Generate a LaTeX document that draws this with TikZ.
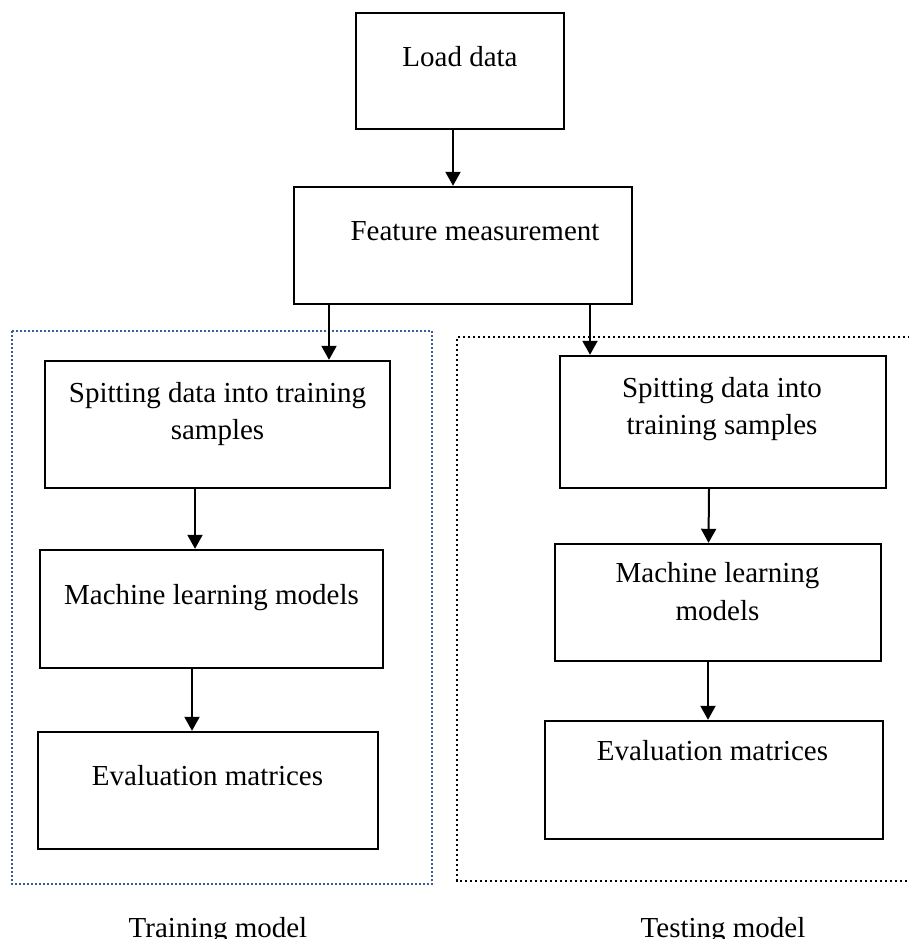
\documentclass[tikz,border=0pt]{standalone}
\usepackage{fontspec}
\setmainfont{Liberation Serif}
\usetikzlibrary{arrows.meta}
\definecolor{dotblue}{HTML}{3A5C9C}
\begin{document}
\begin{tikzpicture}[x=1pt,y=-1pt,
  box/.style={draw=black,line width=2.4pt,inner sep=0pt,fill=none},
  txt/.style={inner sep=0pt,anchor=base,font=\fontsize{29}{37}\selectfont},
  arr/.style={line width=2pt,-{Triangle[width=15pt,length=14pt]}},
  bluedots/.style={draw=dotblue,line width=1.8pt,dash pattern=on 1.8pt off 2.2pt},
  blackdots/.style={draw=black,line width=2.3pt,dash pattern=on 2.3pt off 2.7pt}]
\useasboundingbox (0,0) rectangle (909,939);
% boxes
\node[box,minimum width=208pt,minimum height=116pt] (load) at (460,71) {};
\node[box,minimum width=338pt,minimum height=117pt] (feat) at (463,245.5) {};
\node[box,minimum width=345pt,minimum height=127pt] (ls) at (217.5,424.5) {};
\node[box,minimum width=343pt,minimum height=118pt] (lm) at (211.5,609) {};
\node[box,minimum width=340pt,minimum height=117pt] (le) at (208,790.5) {};
\node[box,minimum width=326pt,minimum height=132pt] (rs) at (723,422) {};
\node[box,minimum width=326pt,minimum height=117pt] (rm) at (718,602.5) {};
\node[box,minimum width=338pt,minimum height=118pt] (re) at (714,780) {};
% group frames
\draw[bluedots] (12,331) rectangle (432,884);
\draw[blackdots] (915,337) -- (457,337) -- (457,881) -- (915,881);
% texts
\node[txt] (t1) at (460,67) {Load data};
\node[txt] (t2) at (475,240) {Feature measurement};
\node[txt] (t3a) at (217.5,402) {Spitting data into training};
\node[txt] (t3b) at (217.5,439) {samples};
\node[txt] (t4) at (211.5,604) {Machine learning models};
\node[txt] (t5) at (207.5,785) {Evaluation matrices};
\node[txt] (t6a) at (722,397) {Spitting data into};
\node[txt] (t6b) at (722,434) {training samples};
\node[txt] (t7a) at (717.5,582) {Machine learning};
\node[txt] (t7b) at (717.5,620) {models};
\node[txt] (t8) at (712.5,760) {Evaluation matrices};
\node[txt] (t9) at (218,937) {Training model};
\node[txt] (t10) at (723,937) {Testing model};
% connectors
\draw[arr] (load.south -| 453,0) -- (453,0 |- feat.north);
\draw[arr] (feat.south -| 329,0) -- (329,0 |- ls.north);
\draw[arr] (feat.south -| 590,0) -- (590,0 |- rs.north);
\draw[arr] (ls.south -| 195,0) -- (195,0 |- lm.north);
\draw[arr] (lm.south -| 192,0) -- (192,0 |- le.north);
\draw[arr] (rs.south -| 709,0) -- (708.5,0 |- rm.north);
\draw[arr] (rm.south -| 708,0) -- (708,0 |- re.north);
\end{tikzpicture}
\end{document}
